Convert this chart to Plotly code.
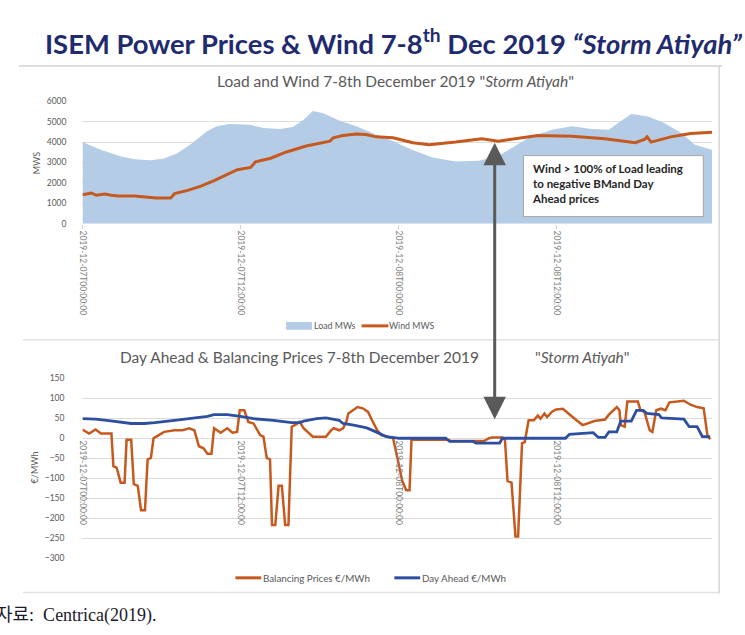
import pandas as pd
import plotly.graph_objects as go

W, H = 745, 635
base = pd.Timestamp("2019-12-07 00:00:00")

# ---------------- data (hours after 2019-12-07 00:00) ----------------
load_hours = [0, 1.43, 2.94, 3.95, 5.2, 6.2, 7.2, 8.2, 9.46, 10.2, 11.2, 12.75, 13.75, 15.0,
              16.0, 16.8, 17.5, 18.3, 19.5, 20.8, 22.3, 23.57, 25.08, 26.6, 28.35, 30.1, 31.6,
              32.9, 34.1, 35.7, 37.2, 38.7, 40.0, 40.7, 41.7, 43.0, 44.2, 45.5, 46.5, 47.85]
load_mw = [3996, 3611, 3289, 3159, 3110, 3192, 3448, 3881, 4526, 4767, 4878, 4845, 4685, 4637,
           4733, 5085, 5518, 5407, 5056, 4767, 4363, 4045, 3611, 3240, 3048, 3082, 3322,
           3804, 4285, 4605, 4767, 4637, 4605, 4926, 5374, 5248, 4926, 4444, 3881, 3611]

wind_hours = [0, 0.68, 1.05, 1.7, 2.2, 2.7, 3.95, 4.95, 5.6, 6.7, 7.0, 8.0, 9.0, 10.0, 11.0,
              11.77, 12.78, 13.15, 14.3, 15.5, 17.0, 18.3, 18.8, 19.05, 19.8, 20.8, 21.55, 22.3,
              23.6, 25.1, 26.35, 28.35, 30.35, 31.6, 33.1, 34.6, 37.2, 39.7, 42.0, 42.7, 42.9,
              43.2, 44.7, 46.2, 47.85]
wind_mw = [1425, 1507, 1395, 1460, 1395, 1363, 1363, 1315, 1266, 1266, 1475, 1636, 1845, 2118, 2440,
           2648, 2761, 3034, 3210, 3515, 3804, 3965, 4045, 4205, 4318, 4398, 4366, 4253,
           4205, 3965, 3868, 3997, 4157, 4045, 4189, 4318, 4285, 4157, 3965, 4125, 4253,
           3997, 4253, 4414, 4478]

bal_hours = [0, 0.5, 1.0, 1.4, 2.2, 2.35, 2.6, 2.9, 3.2, 3.35, 3.7, 3.9, 4.2, 4.45, 4.75, 4.95,
             5.2, 5.4, 5.8, 6.2, 7.0, 7.6, 8.1, 8.5, 8.85, 9.2, 9.5, 9.8, 10.0, 10.5, 11.0, 11.4,
             11.75, 11.95, 12.3, 12.6, 13.0, 13.25, 13.5, 13.75, 14.0, 14.25, 14.4, 14.65, 14.9,
             15.15, 15.4, 15.65, 15.9, 16.2, 16.5, 16.8, 17.3, 17.5, 18.5, 18.9, 19.1, 19.5, 19.8,
             20.05, 20.2, 20.6, 20.9, 21.3, 21.7, 22.0, 22.4, 22.7, 23.6, 23.8, 24.1, 24.3, 24.6,
             24.85, 25.0, 27.8, 28.0, 30.5, 30.9, 31.1, 31.9, 32.1, 32.3, 32.6, 32.9, 33.1, 33.4,
             33.6, 33.9, 34.3, 34.6, 34.8, 35.1, 35.3, 35.7, 36.0, 36.5, 36.9, 37.4, 38.0, 38.4,
             38.9, 39.7, 40.0, 40.6, 40.8, 40.9, 41.2, 41.4, 42.2, 42.4, 42.7, 43.1, 43.3, 43.6,
             43.95, 44.3, 44.6, 45.7, 46.2, 46.7, 47.2, 47.5, 47.7]
bal_price = [22, 12, 22, 12, 12, -70, -74, -111, -111, -4, -4, -115, -119, -180, -180, -53,
             -49, 0, 8, 16, 20, 20, 25, 20, -20, -25, -39, -39, 25, 14, 25, 14,
             16, 70, 70, 41, 37, 22, 8, 4, -49, -53, -217, -217, -119,
             -119, -217, -217, 29, 34, 41, 25, 10, 4, 4, 20, 25, 20, 25,
             41, 62, 70, 78, 75, 66, 45, 20, 8, 0, -30, -82, -107, -130,
             -130, -4, -4, -7, -7, 0, 2, 2, -4, -107, -111, -246, -246, -12,
             -10, 45, 45, 57, 49, 62, 53, 67, 72, 74, 62, 49, 33, 37,
             43, 47, 59, 78, 70, 33, 29, 92, 92, 70, 66, 20, 16, 70,
             74, 70, 90, 94, 84, 78, 75, 4, -2]

da_hours = [0, 1, 2, 3, 3.7, 4.7, 5.5, 7.0, 8.0, 8.7, 9.5, 10.0, 11.0, 12.0, 13.0, 14.5, 15.9,
            16.5, 16.8, 17.8, 18.5, 19.5, 19.8, 20.6, 21.6, 22.3, 23.1, 24.1, 27.6, 27.9, 29.7,
            29.9, 31.7, 31.9, 36.7, 37.0, 38.2, 38.8, 39.2, 39.7, 40.0, 40.6, 40.9, 41.7, 42.1,
            42.6, 42.9, 43.8, 44.0, 45.7, 46.1, 46.7, 47.1, 47.7]
da_price = [49, 48, 44, 40, 37, 37, 39, 45, 49, 51, 55, 59, 59, 55, 49, 45, 39,
            39, 43, 49, 51, 45, 37, 33, 26, 16, 4, 0, 0, -8, -8,
            -12, -12, 0, 0, 10, 12, 14, 2, 2, 16, 16, 43, 43, 70,
            70, 62, 59, 51, 48, 29, 29, 4, 4]

tick_hours = [0, 12, 24, 36]
tick_labels = ["2019-12-07T00:00:00", "2019-12-07T12:00:00",
               "2019-12-08T00:00:00", "2019-12-08T12:00:00"]


def ts(hours):
    return [base + pd.Timedelta(hours=h) for h in hours]


def fx(px):
    return px / W


def fy(py):
    return 1 - py / H


LOAD_C = "#b4cce6"
ORANGE = "#c65a1e"
BLUE = "#2e4fa0"
GRID = "#dcdcdc"
TXT = "#595959"
FONT = "Lato, Open Sans, sans-serif"

x_range = [base, base + pd.Timedelta(hours=47.85)]

fig = go.Figure()
fig.add_trace(go.Scatter(x=ts(load_hours), y=load_mw, mode="lines", fill="tozeroy",
                         line=dict(width=0, color=LOAD_C), fillcolor=LOAD_C,
                         name="Load MWs", xaxis="x", yaxis="y"))
fig.add_trace(go.Scatter(x=ts(wind_hours), y=wind_mw, mode="lines",
                         line=dict(width=3, color=ORANGE),
                         name="Wind MWS", xaxis="x", yaxis="y"))
fig.add_trace(go.Scatter(x=ts(bal_hours), y=bal_price, mode="lines",
                         line=dict(width=2.5, color=ORANGE),
                         name="Balancing Prices €/MWh", xaxis="x2", yaxis="y2"))
fig.add_trace(go.Scatter(x=ts(da_hours), y=da_price, mode="lines",
                         line=dict(width=2.8, color=BLUE),
                         name="Day Ahead €/MWh", xaxis="x2", yaxis="y2"))

xdom = [fx(78), fx(712)]
common_x = dict(domain=xdom, range=x_range, tickvals=ts(tick_hours), ticktext=tick_labels,
                tickangle=90, tickfont=dict(size=8.5, color="#7f7f7f", family=FONT),
                showgrid=False, zeroline=False, showline=False)

fig.update_layout(
    width=W, height=H, margin=dict(l=0, r=0, t=0, b=0),
    paper_bgcolor="white", plot_bgcolor="rgba(0,0,0,0)",
    font=dict(family=FONT, color=TXT),
    showlegend=False,
    xaxis=dict(**common_x, anchor="y", ticks="outside", ticklen=4, tickcolor="#d0d0d0"),
    yaxis=dict(domain=[fy(222.3), fy(97.7)], range=[0, 6000], dtick=1000,
               gridcolor=GRID, zeroline=False, showline=False,
               tickfont=dict(size=8.5, color=TXT), ticklabelstandoff=15),
    xaxis2=dict(**common_x, anchor="free", position=fy(439.3), ticks="", ticklabelstandoff=2),
    yaxis2=dict(domain=[fy(562.0), fy(379.3)], range=[-300, 150], dtick=50,
                gridcolor=GRID, zeroline=False, showline=False,
                tickfont=dict(size=8.5, color=TXT), ticklabelstandoff=17),
)

shapes = [
    dict(type="line", xref="paper", yref="paper", x0=fx(14), x1=fx(722), y0=fy(62), y1=fy(62),
         line=dict(color="#dedede", width=2)),
    dict(type="line", xref="paper", yref="paper", x0=fx(719), x1=fx(719), y0=fy(62), y1=fy(598),
         line=dict(color="#d6d6d6", width=1.5)),
    dict(type="line", xref="paper", yref="paper", x0=fx(18), x1=fx(719), y0=fy(340), y1=fy(340),
         line=dict(color="#e2e2e2", width=1.5)),
    dict(type="line", xref="paper", yref="paper", x0=fx(18), x1=fx(719), y0=fy(597), y1=fy(597),
         line=dict(color="#e2e2e2", width=1.5)),
    dict(type="rect", xref="paper", yref="paper", x0=fx(522), x1=fx(703), y0=fy(215), y1=fy(153),
         fillcolor="white", line=dict(color="#a6a6a6", width=1)),
    # legend keys
    dict(type="rect", xref="paper", yref="paper", x0=fx(283), x1=fx(309), y0=fy(330), y1=fy(322),
         fillcolor=LOAD_C, line=dict(width=0)),
    dict(type="line", xref="paper", yref="paper", x0=fx(359), x1=fx(386), y0=fy(326), y1=fy(326),
         line=dict(color=ORANGE, width=3)),
    dict(type="line", xref="paper", yref="paper", x0=fx(232), x1=fx(258), y0=fy(582), y1=fy(582),
         line=dict(color=ORANGE, width=3)),
    dict(type="line", xref="paper", yref="paper", x0=fx(392), x1=fx(418), y0=fy(582), y1=fy(582),
         line=dict(color=BLUE, width=3)),
]


def note(text, px, py, size, color=TXT, xanchor="center", yanchor="middle", **kw):
    return dict(text=text, x=fx(px), y=fy(py), xref="paper", yref="paper",
                xanchor=xanchor, yanchor=yanchor, showarrow=False,
                font=dict(size=size, color=color, family=kw.pop("family", FONT)), **kw)


annotations = [
    note("<b>ISEM Power Prices &amp; Wind 7-8<sup>th</sup> Dec 2019 <i>“Storm Atiyah”</i></b>",
         38, 37, 27.4, color="#1f2b6e", xanchor="left"),
    note('Load and Wind 7-8th December 2019 "<i>Storm Atiyah</i>"', 393, 77, 15.5),
    note("Day Ahead &amp; Balancing Prices 7-8th December 2019", 296, 358, 15.5),
    note('"<i>Storm Atiyah</i>"', 581, 358, 15.5),
    note("MWS", 32, 160, 9, textangle=-90),
    note("€/MWh", 30, 470, 9, textangle=-90),
    note("<b>Wind &gt; 100% of Load leading<br>to negative BMand Day<br>Ahead prices</b>",
         529, 157, 11.5, color="#262626", xanchor="left", yanchor="top", align="left"),
    note("Load MWs", 309, 326, 8.8, xanchor="left"),
    note("Wind MWS", 385, 326, 8.8, xanchor="left"),
    note("Balancing Prices €/MWh", 258, 582, 9.8, xanchor="left"),
    note("Day Ahead €/MWh", 418, 582, 9.8, xanchor="left"),
    note("자료:  Centrica(2019).", -11, 620, 18, color="#1a1a2a", xanchor="left",
         family="Liberation Serif, Noto Sans CJK KR, serif"),
    dict(text="", x=fx(493), y=fy(421), xref="paper", yref="paper",
         ax=0, ay=-(421 - 143), axref="pixel", ayref="pixel",
         showarrow=True, arrowhead=2, startarrowhead=2, arrowside="end+start",
         arrowwidth=3, arrowsize=1.5, startarrowsize=1.5, arrowcolor="#5a5a5a"),
]

fig.update_layout(shapes=shapes, annotations=annotations)
fig.write_html("out.html", config={"displayModeBar": False},
               post_script="document.body.style.margin='0';")
